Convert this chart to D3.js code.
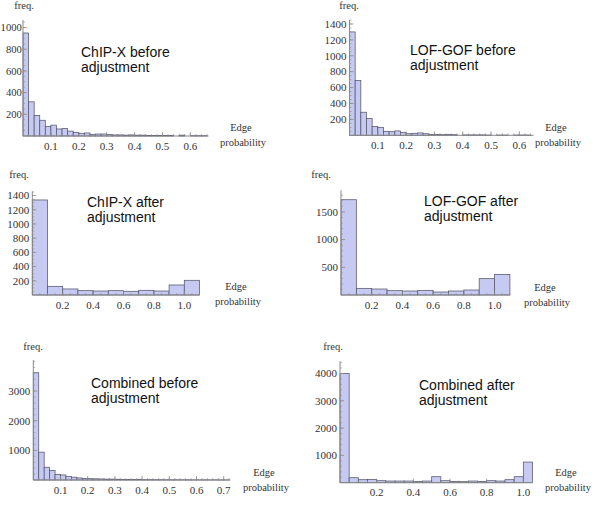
<!DOCTYPE html>
<html><head><meta charset="utf-8">
<script src="https://cdn.jsdelivr.net/npm/d3@7"></script>
<style>body{margin:0;background:#fff}svg{display:block}</style>
</head><body><svg id="c" width="600" height="510"></svg>
<script>
// ---- data (bin counts) ----
const chipBefore = [950,315,190,145,88,100,65,68,45,33,25,28,15,18,18,15,10,10,8,10,8,8,5,5,5,5,5,0,8,0,3,3,3];
const lofBefore  = [1300,690,290,210,110,100,50,45,55,35,20,25,30,20,10,10,8,10,8,0,5,5,5,5,3,0,3,3,0,3,3,3];
const chipAfter  = [1338,122,85,61,56,61,52,66,56,141,207];
const lofAfter   = [1720,120,108,78,72,84,54,72,90,295,373];
const combBefore = [3620,940,430,320,190,170,115,95,70,55,45,40,35,30,30,25,20,20,15,15,12,12,10,10,8,8,8,6,6,5,5,5,4,4,3,3];
const combAfter  = [4000,183,110,122,73,61,61,61,49,61,220,73,49,37,61,49,73,61,110,220,756];
const binBefore = 0.02, binAfter = 0.1, binCombAfter = 0.05;
// ---- tick labels ----
const xTicksP1 = [0.1,0.2,0.3,0.4,0.5,0.6];
const xTicksP5 = [0.1,0.2,0.3,0.4,0.5,0.6,0.7];
const xTicksAfter = [0.2,0.4,0.6,0.8,1.0];
const yTicksP1 = [200,400,600,800,1000];
const yTicks1400 = [200,400,600,800,1000,1200,1400];
const yTicksP4 = [500,1000,1500];
const yTicksP5 = [1000,2000,3000];
const yTicksP6 = [1000,2000,3000,4000];
const titles = [["ChIP-X before","adjustment"],["LOF-GOF before","adjustment"],["ChIP-X after","adjustment"],["LOF-GOF after","adjustment"],["Combined before","adjustment"],["Combined after","adjustment"]];

const panels = [
 {vals:chipBefore, bin:binBefore, xd:[0,0.665], xr:[23,208.5], yd:[0,1070], yr:[136,20], xt:xTicksP1, xm:0.02, yt:yTicksP1, ym:50, lg:1.2, lfs:10.6,
  title:titles[0], tx:81, ty:57, freq:[24,9], edge:[241,131]},
 {vals:lofBefore, bin:binBefore, xd:[0,0.65], xr:[349.5,533.5], yd:[0,1450], yr:[135.3,20], xt:xTicksP1, xm:0.02, yt:yTicks1400, ym:50, lg:3, lfs:11,
  title:titles[1], tx:410, ty:55, freq:[349,9], edge:[556,131]},
 {vals:chipAfter, bin:binAfter, xd:[0,1.1], xr:[32.3,199.5], yd:[0,1460], yr:[295,191.3], xt:xTicksAfter, xm:0.05, yt:yTicks1400, ym:50, lg:3, lfs:11,
  title:titles[2], tx:87, ty:207, freq:[19,178], edge:[236,290]},
 {vals:lofAfter, bin:binAfter, xd:[0,1.1], xr:[341,509.9], yd:[0,1890], yr:[295,190.3], xt:xTicksAfter, xm:0.05, yt:yTicksP4, ym:100, lg:3, lfs:11,
  title:titles[3], tx:424, ty:206, freq:[321,178], edge:[545,291]},
 {vals:combBefore, bin:binBefore, xd:[0,0.725], xr:[33.3,230.5], yd:[0,4050], yr:[480,360], xt:xTicksP5, xm:0.02, yt:yTicksP5, ym:200, lg:3, lfs:11,
  title:titles[4], tx:91, ty:388, freq:[33,350], edge:[264,476]},
 {vals:combAfter, bin:binCombAfter, xd:[0,1.05], xr:[340,532.5], yd:[0,4450], yr:[482.7,361.2], xt:xTicksAfter, xm:0.05, yt:yTicksP6, ym:200, lg:3, lfs:11,
  title:titles[5], tx:419, ty:390, freq:[333,350], edge:[566,476]}
];

const svg = d3.select("#c");
const serif = "'Liberation Serif','Times New Roman',serif";
const sans = "'Liberation Sans',Arial,sans-serif";
const axisCol = "#8a8a8a";

panels.forEach(p => {
  const x = d3.scaleLinear().domain(p.xd).range(p.xr);
  const y = d3.scaleLinear().domain(p.yd).range(p.yr);
  const g = svg.append("g");
  const x0 = x(0), y0 = y(0);

  // bars
  g.selectAll("rect.bar").data(p.vals.map((v,i)=>({v,i}))).enter()
   .filter(d=>d.v>0)
   .append("rect").attr("class","bar")
   .attr("x", d=>x(d.i*p.bin)).attr("width", d=>x((d.i+1)*p.bin)-x(d.i*p.bin))
   .attr("y", d=>y(d.v)).attr("height", d=>y0-y(d.v))
   .attr("fill","#c6caf2").attr("stroke","#55556a").attr("stroke-width",0.75);

  // axes lines
  g.append("line").attr("x1",x0).attr("x2",p.xr[1]).attr("y1",y0).attr("y2",y0).attr("stroke",axisCol).attr("stroke-width",1);
  g.append("line").attr("x1",x0).attr("x2",x0).attr("y1",y0).attr("y2",p.yr[1]).attr("stroke",axisCol).attr("stroke-width",1);

  // minor/major ticks
  const xMinor = d3.range(p.xm, p.xd[1]+1e-9, p.xm);
  g.selectAll("line.xm").data(xMinor).enter().append("line")
   .attr("x1",d=>x(d)).attr("x2",d=>x(d)).attr("y1",y0).attr("y2",y0-2)
   .attr("stroke",axisCol).attr("stroke-width",0.6);
  g.selectAll("line.xM").data(p.xt).enter().append("line")
   .attr("x1",d=>x(d)).attr("x2",d=>x(d)).attr("y1",y0).attr("y2",y0-4)
   .attr("stroke",axisCol).attr("stroke-width",0.8);
  const yMinor = d3.range(p.ym, p.yd[1]+1e-9, p.ym);
  g.selectAll("line.ym").data(yMinor).enter().append("line")
   .attr("x1",x0).attr("x2",x0+2).attr("y1",d=>y(d)).attr("y2",d=>y(d))
   .attr("stroke",axisCol).attr("stroke-width",0.6);
  g.selectAll("line.yM").data(p.yt).enter().append("line")
   .attr("x1",x0).attr("x2",x0+4).attr("y1",d=>y(d)).attr("y2",d=>y(d))
   .attr("stroke",axisCol).attr("stroke-width",0.8);

  // tick labels
  g.selectAll("text.xl").data(p.xt).enter().append("text")
   .attr("x",d=>x(d)).attr("y",y0+13.5).attr("text-anchor","middle")
   .attr("font-family",serif).attr("font-size",11).attr("fill","#333")
   .text(d=>d.toFixed(1));
  g.selectAll("text.yl").data(p.yt).enter().append("text")
   .attr("x",x0-p.lg).attr("y",d=>y(d)+3.8).attr("text-anchor","end")
   .attr("font-family",serif).attr("font-size",p.lfs).attr("fill","#333")
   .text(d=>d);

  // axis titles
  g.append("text").attr("x",p.freq[0]).attr("y",p.freq[1]).attr("text-anchor","middle")
   .attr("font-family",serif).attr("font-size",10.5).attr("fill","#333").text("freq.");
  g.append("text").attr("x",p.edge[0]).attr("y",p.edge[1]).attr("text-anchor","middle")
   .attr("font-family",serif).attr("font-size",10.5).attr("fill","#333").text("Edge");
  g.append("text").attr("x",p.edge[0]+2).attr("y",p.edge[1]+15).attr("text-anchor","middle")
   .attr("font-family",serif).attr("font-size",10.5).attr("fill","#333").text("probability");

  // panel title
  const t = g.append("text").attr("x",p.tx).attr("y",p.ty)
   .attr("font-family",sans).attr("font-size",14).attr("fill","#111");
  t.append("tspan").attr("x",p.tx).text(p.title[0]);
  t.append("tspan").attr("x",p.tx).attr("dy",15).text(p.title[1]);
});
</script></body></html>
